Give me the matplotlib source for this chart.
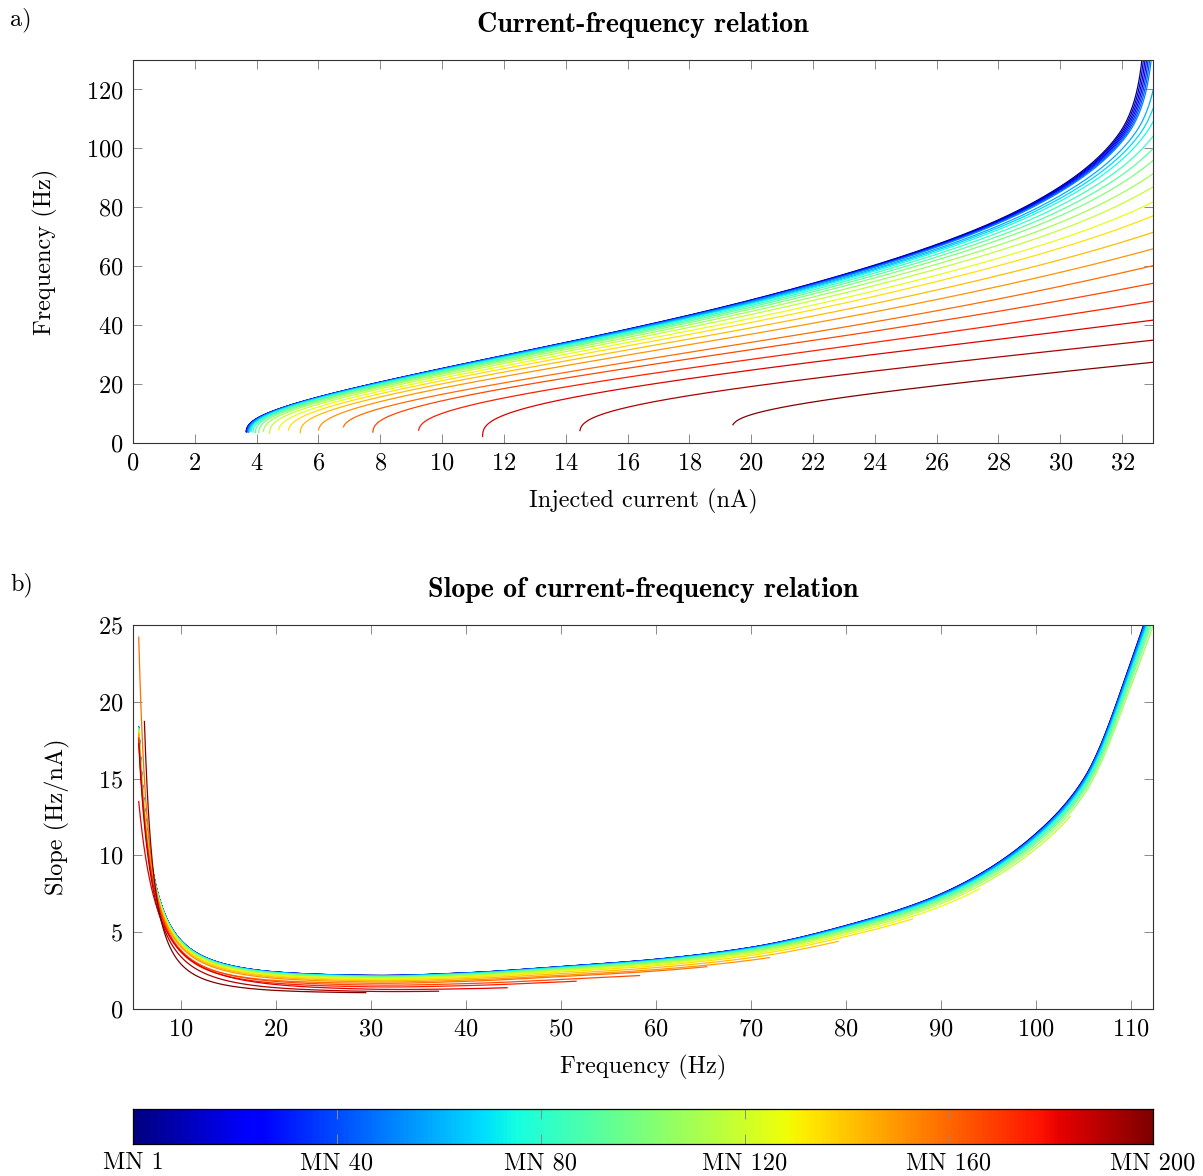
import numpy as np
import matplotlib
matplotlib.use("Agg")
import matplotlib.pyplot as plt

plt.rcParams["font.family"] = "serif"
plt.rcParams["font.serif"] = ["cmr10"]
plt.rcParams["mathtext.fontset"] = "cm"
plt.rcParams["axes.formatter.use_mathtext"] = True
plt.rcParams["font.size"] = 17.5

# motoneurons shown (25 cells spread over the pool of 200)
mn_ids = [1, 9, 18, 26, 34, 42, 51, 59, 67, 76, 84, 92, 100,
          109, 117, 125, 134, 142, 150, 159, 167, 175, 183, 192, 200]

# recruitment threshold (nA) and first firing rate (Hz) of each motoneuron
i_threshold = [3.66, 3.665, 3.67, 3.68, 3.69, 3.70, 3.72, 3.74, 3.78, 3.82,
               3.88, 3.96, 4.07, 4.22, 4.42, 4.71, 5.03, 5.41, 6.00, 6.81,
               7.76, 9.24, 11.31, 14.46, 19.41]
f_onset = [3.9, 3.8, 4.0, 3.7, 3.9, 4.1, 3.8, 3.6, 4.0, 3.9,
           3.7, 3.6, 3.5, 4.0, 3.3, 4.4, 4.4, 3.5, 4.4, 5.5,
           3.7, 4.3, 2.2, 4.2, 6.2]

# point where each curve leaves the plotted range (current nA, frequency Hz)
i_edge = [32.64, 32.69, 32.74, 32.79, 32.84, 32.89, 32.94] + [33.0] * 18
f_edge = [130.0] * 7 + [119.6, 113.5, 109.0, 104.1, 99.9, 95.9, 91.4, 86.9,
                        81.8, 77.1, 71.5, 65.9, 60.2, 54.2, 48.1, 41.7, 34.9, 27.4]

# slope of the fastest cell above onset (Hz/nA) against frequency (Hz)
slope_freq = [0, 10, 20, 30, 40, 50, 60, 70, 80, 90, 100, 105, 110, 115, 120, 130, 140, 160, 200]
slope_profile = [2.1, 2.1, 2.02, 2.05, 2.3, 2.75, 3.25, 4.05, 5.5, 7.6, 11.6, 15.2, 23.0,
                 33.0, 48.0, 95.0, 160.0, 420.0, 2000.0]

ONSET = 125.0      # strength of the steep start of firing
C_BASE = 2.83      # frequency where the onset term diverges
I_MAX = 35.0       # largest injected current simulated
F_MIN_SLOPE = 5.6  # lowest frequency with a slope estimate
cb_ticks = [0, 40, 80, 120, 160, 200]
cb_labels = ["MN 1", "MN 40", "MN 80", "MN 120", "MN 160", "MN 200"]


def pchip(x, y, xq):
    x = np.asarray(x, float)
    y = np.asarray(y, float)
    h = np.diff(x)
    d = np.diff(y) / h
    m = np.zeros_like(y)
    for i in range(1, len(x) - 1):
        if d[i - 1] * d[i] > 0:
            w1 = 2 * h[i] + h[i - 1]
            w2 = h[i] + 2 * h[i - 1]
            m[i] = (w1 + w2) / (w1 / d[i - 1] + w2 / d[i])
    m[0], m[-1] = d[0], d[-1]
    j = np.clip(np.searchsorted(x, xq) - 1, 0, len(x) - 2)
    t = (xq - x[j]) / h[j]
    return ((2 * t**3 - 3 * t**2 + 1) * y[j] + (t**3 - 2 * t**2 + t) * h[j] * m[j]
            + (-2 * t**3 + 3 * t**2) * y[j + 1] + (t**3 - t**2) * h[j] * m[j + 1])


def profile(f):
    return np.exp(pchip(slope_freq, np.log(slope_profile), f))


def build_curve(thr, f0, s):
    c = min(max(C_BASE, f0 - 1.9), f0 - 0.4)
    # onset terms agree with the base one at 8 Hz
    amp = ONSET * ((8.0 - c) / (8.0 - C_BASE)) ** 2
    f = f0 + np.concatenate([[0.0], np.geomspace(1e-3, 200.0 - f0, 4000)])
    g = amp / (f - c) ** 2 + s * profile(f)
    inv = 1.0 / g
    cur = thr + np.concatenate([[0.0], np.cumsum(0.5 * (inv[1:] + inv[:-1]) * np.diff(f))])
    return cur, f, g


def fit_gain(k):
    lo, hi = 0.05, 5.0
    for _ in range(60):
        mid = 0.5 * (lo + hi)
        cur, f, _ = build_curve(i_threshold[k], f_onset[k], mid)
        if np.interp(f_edge[k], f, cur) > i_edge[k]:
            lo = mid
        else:
            hi = mid
    return 0.5 * (lo + hi)


def style(ax):
    ax.tick_params(direction="in", top=True, right=True, length=6.5, width=0.7,
                   color="#8a8a8a", pad=7)
    for sp in ax.spines.values():
        sp.set_linewidth(0.8)
        sp.set_color("#333333")


fig = plt.figure(figsize=(12.03, 11.76), dpi=100)
ax_a = fig.add_axes([133 / 1203, 1 - 443 / 1176, 1020 / 1203, 383 / 1176])
ax_b = fig.add_axes([133 / 1203, 1 - 1009 / 1176, 1020 / 1203, 384 / 1176])
cax = fig.add_axes([133 / 1203, 1 - 1144 / 1176, 1020 / 1203, 35 / 1176])

cmap = plt.get_cmap("jet")
for k, mn in enumerate(mn_ids):
    s = fit_gain(k)
    cur, f, g = build_curve(i_threshold[k], f_onset[k], s)
    keep = cur <= I_MAX
    color = cmap(mn / 200)
    ax_a.plot(cur[keep], f[keep], color=color, lw=0.9)
    keep_b = keep & (f >= F_MIN_SLOPE)
    ax_b.plot(f[keep_b], g[keep_b], color=color, lw=0.9)

# a) current-frequency relation
ax_a.set_xlim(0, 33)
ax_a.set_ylim(0, 130)
ax_a.set_xticks(range(0, 33, 2))
ax_a.set_yticks(range(0, 121, 20))
ax_a.set_xlabel("Injected current (nA)", labelpad=10)
ax_a.set_ylabel("Frequency (Hz)", labelpad=20)
ax_a.set_title("Current-frequency relation", fontfamily="cmb10", fontsize=20.2, pad=20)
style(ax_a)

# b) slope against firing frequency
ax_b.set_xlim(5, 112.3)
ax_b.set_ylim(0, 25)
ax_b.set_xticks(range(10, 111, 10))
ax_b.set_yticks(range(0, 26, 5))
ax_b.set_xlabel("Frequency (Hz)", labelpad=10)
ax_b.set_ylabel("Slope (Hz/nA)", labelpad=20)
ax_b.set_title("Slope of current-frequency relation", fontfamily="cmb10", fontsize=20.2, pad=20)
style(ax_b)

# colour key for motoneuron index
cax.imshow(np.linspace(0, 200, 512)[None, :], aspect="auto", cmap=cmap,
           extent=[0, 200, 0, 1], vmin=0, vmax=200)
cax.set_xticks(cb_ticks)
cax.set_xticklabels(cb_labels)
cax.set_yticks([])
cax.tick_params(direction="in", top=True, bottom=True, length=7, width=0.7,
                color="#8a8a8a", pad=6)
for sp in cax.spines.values():
    sp.set_linewidth(0.9)

fig.text(10 / 1203, 1 - 20 / 1176, "a)", va="center", ha="left")
fig.text(10 / 1203, 1 - 585 / 1176, "b)", va="center", ha="left")

fig.savefig("out.png", dpi=100)
